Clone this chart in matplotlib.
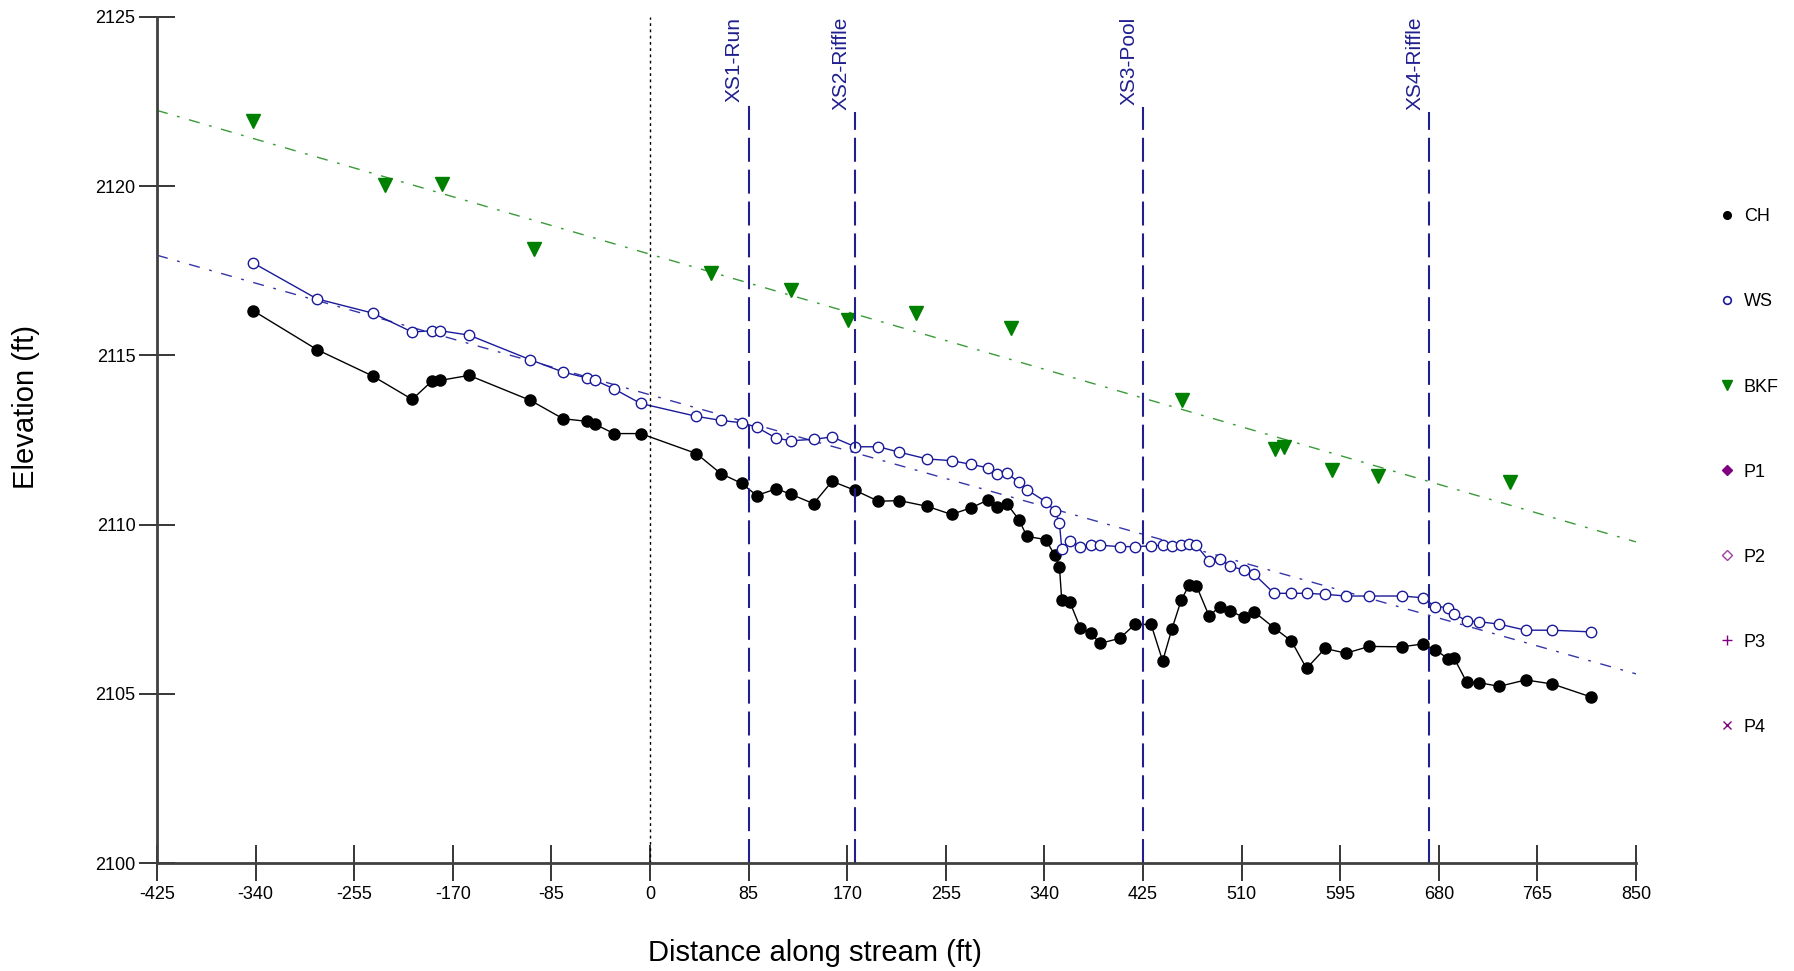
import matplotlib
matplotlib.use("Agg")
import matplotlib.pyplot as plt
from matplotlib.lines import Line2D

plt.rcParams["font.family"] = ["Liberation Sans", "DejaVu Sans"]
plt.rcParams["axes.unicode_minus"] = False

# longitudinal profile survey (ft)
station = [-342, -287, -239, -205, -188, -181, -156, -103, -75, -54,
           -47, -31, -8, 40, 61, 79, 92, 109, 122, 141,
           157, 177, 197, 215, 239, 260, 277, 291, 299, 308,
           318, 325, 341, 349, 353, 355, 362, 371, 380, 388,
           405, 418, 432, 442, 450, 458, 465, 471, 482, 491,
           500, 512, 521, 538, 553, 566, 582, 600, 620, 648,
           666, 677, 688, 693, 704, 715, 732, 755, 778, 811]
ch_elev = [2116.32, 2115.17, 2114.39, 2113.70, 2114.24, 2114.26, 2114.41, 2113.67, 2113.13, 2113.05,
           2112.96, 2112.69, 2112.69, 2112.10, 2111.51, 2111.22, 2110.86, 2111.06, 2110.89, 2110.62,
           2111.28, 2111.01, 2110.69, 2110.71, 2110.54, 2110.30, 2110.50, 2110.72, 2110.53, 2110.60,
           2110.15, 2109.65, 2109.56, 2109.10, 2108.76, 2107.76, 2107.71, 2106.95, 2106.79, 2106.49,
           2106.64, 2107.05, 2107.05, 2105.97, 2106.92, 2107.77, 2108.23, 2108.20, 2107.30, 2107.57,
           2107.45, 2107.26, 2107.42, 2106.95, 2106.56, 2105.75, 2106.34, 2106.20, 2106.40, 2106.39,
           2106.47, 2106.30, 2106.04, 2106.07, 2105.35, 2105.33, 2105.22, 2105.41, 2105.29, 2104.91]
ws_elev = [2117.73, 2116.67, 2116.25, 2115.69, 2115.73, 2115.73, 2115.60, 2114.87, 2114.51, 2114.33,
           2114.26, 2114.01, 2113.58, 2113.20, 2113.08, 2113.01, 2112.88, 2112.55, 2112.48, 2112.52,
           2112.59, 2112.30, 2112.30, 2112.14, 2111.94, 2111.89, 2111.78, 2111.68, 2111.51, 2111.52,
           2111.25, 2111.03, 2110.68, 2110.41, 2110.05, 2109.28, 2109.53, 2109.35, 2109.39, 2109.39,
           2109.35, 2109.35, 2109.37, 2109.39, 2109.37, 2109.39, 2109.42, 2109.39, 2108.92, 2108.99,
           2108.77, 2108.66, 2108.53, 2107.97, 2107.97, 2107.97, 2107.94, 2107.89, 2107.89, 2107.89,
           2107.84, 2107.58, 2107.55, 2107.36, 2107.16, 2107.13, 2107.06, 2106.88, 2106.88, 2106.83]

bkf_station = [-342, -228, -179, -100, 53, 122, 171, 229, 311, 459, 539, 547, 588, 628, 741]
bkf_elev = [2121.92, 2120.04, 2120.07, 2118.15, 2117.44, 2116.94, 2116.06, 2116.24, 2115.81,
            2113.68, 2112.22, 2112.30, 2111.61, 2111.45, 2111.25]

# fitted slope lines, end points
trend_x = [-425, 850]
bkf_trend = [2122.24, 2109.49]
ws_trend = [2117.96, 2105.59]

xs_station = [85, 177, 425, 672]
xs_name = ["XS1-Run", "XS2-Riffle", "XS3-Pool", "XS4-Riffle"]

x_ticks = list(range(-425, 851, 85))
y_ticks = [2100, 2105, 2110, 2115, 2120, 2125]

WS_BLUE = "#1A1A9A"
TREND_BLUE = "#3535A8"
BKF_GREEN = "#008000"
TREND_GREEN = "#3A9A3A"
XS_BLUE = "#1F1F8F"
PURPLE = "#800080"

fig = plt.figure(figsize=(17.94, 9.71), dpi=100)
ax = fig.add_axes([0.0875, 0.1112, 0.8244, 0.8713])

ax.plot(trend_x, bkf_trend, color=TREND_GREEN, lw=1.0, ls=(0, (8, 7, 2, 7)))
ax.plot(trend_x, ws_trend, color=TREND_BLUE, lw=1.0, ls=(0, (8, 7, 2, 7)))

ax.plot(station, ch_elev, color="black", lw=1.0, marker="o", ms=8, mfc="black", mec="black")
ax.plot(station, ws_elev, color=WS_BLUE, lw=1.0, marker="o", ms=7.5, mfc="white", mec=WS_BLUE, mew=1.0)
ax.plot(bkf_station, bkf_elev, ls="none", marker="v", ms=9.5, color=BKF_GREEN)

ax.axvline(0, color="black", lw=1.0, ls=(0, (2, 2.5)))

ax.set_xlim(-425, 850)
ax.set_ylim(2100, 2125)
ax.set_xticks(x_ticks)
ax.set_yticks(y_ticks)

for s in ["top", "right"]:
    ax.spines[s].set_visible(False)
for s in ["left", "bottom"]:
    ax.spines[s].set_color("#404040")
    ax.spines[s].set_linewidth(2)

ax.tick_params(axis="both", direction="inout", length=26, width=1.1, labelsize=13, color="black")
ax.tick_params(axis="x", pad=3.5)
ax.tick_params(axis="y", pad=2.5)

# cross-section markers: label at top, dashed line from the label down to the axis
fig.canvas.draw()
renderer = fig.canvas.get_renderer()
for xs, name in zip(xs_station, xs_name):
    t = ax.annotate(name, xy=(xs, 2125), xytext=(-3.5, 0), textcoords="offset points",
                    rotation=90, ha="right", va="top", fontsize=15, color=XS_BLUE)
    bb = t.get_window_extent(renderer)
    y_top = ax.transData.inverted().transform((0, bb.y0 - 2))[1]
    ax.vlines(xs, 2100, y_top, colors=XS_BLUE, lw=1.5, linestyles=[(0, (11.5, 3.8))])

fig.text(0.0145, 0.581, "Elevation (ft)", rotation=90, ha="center", va="center", fontsize=21)
fig.text(0.4545, 0.0098, "Distance along stream (ft)", ha="center", va="baseline", fontsize=21)

handles = [
    Line2D([], [], ls="none", marker="o", ms=5.5, color="black"),
    Line2D([], [], ls="none", marker="o", ms=5.5, mfc="white", mec=WS_BLUE, mew=1.2),
    Line2D([], [], ls="none", marker="v", ms=7, color=BKF_GREEN),
    Line2D([], [], ls="none", marker="D", ms=5, color=PURPLE),
    Line2D([], [], ls="none", marker="D", ms=5, mfc="white", mec="#A040A0", mew=1.0),
    Line2D([], [], ls="none", marker="+", ms=7.5, color=PURPLE, mew=1.0),
    Line2D([], [], ls="none", marker="x", ms=5.5, color=PURPLE, mew=1.0),
]
labels = ["CH", "WS", "BKF", "P1", "P2", "P3", "P4"]
fig.legend(handles, labels, loc="upper left", bbox_to_anchor=(0.9575, 0.7854), frameon=False,
           fontsize=13, labelspacing=3.77, handlelength=1.0, handletextpad=0.45,
           borderpad=0, borderaxespad=0)

fig.savefig("out.png", dpi=100)
